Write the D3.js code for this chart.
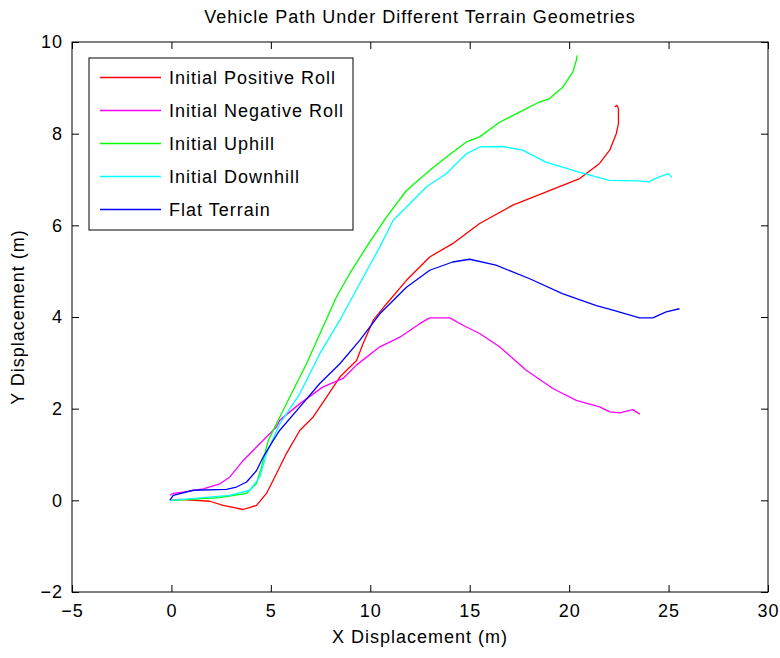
<!DOCTYPE html>
<html>
<head>
<meta charset="utf-8">
<script src="https://cdn.jsdelivr.net/npm/d3@7"></script>
<style>
  body { margin: 0; background: #fff; }
  svg text { fill: #000; }
</style>
</head>
<body>
<div id="chart"></div>
<script>
// series: [x, y] in metres
var positiveRoll = [[0,0],[0.43,0.02],[1.93,-0.02],[2.6,-0.11],[3.6,-0.2],[4.28,-0.11],[4.78,0.15],[5.28,0.58],[5.78,1.02],[6.46,1.53],[7.13,1.82],[7.8,2.25],[8.47,2.69],[9.31,3.05],[9.64,3.42],[10.15,3.93],[10.82,4.29],[11.82,4.8],[12.99,5.31],[14.14,5.6],[15.5,6.04],[17.17,6.44],[18.85,6.73],[20.53,7.02],[21.53,7.35],[22.04,7.64],[22.37,8.0],[22.48,8.22],[22.48,8.55],[22.4,8.62],[22.3,8.58]];
var negativeRoll = [[-0.08,0.11],[0.09,0.15],[0.59,0.18],[1.6,0.25],[2.44,0.36],[2.94,0.51],[3.61,0.87],[4.45,1.24],[5.28,1.6],[5.45,1.75],[6.46,2.11],[7.6,2.47],[8.63,2.66],[9.3,2.95],[10.48,3.35],[11.49,3.56],[12.5,3.86],[12.99,3.98],[14.0,3.98],[14.66,3.82],[15.5,3.64],[16.5,3.35],[17.84,2.84],[19.18,2.44],[20.36,2.18],[21.53,2.04],[22.04,1.93],[22.55,1.91],[23.2,1.98],[23.55,1.88]];
var uphill = [[0,0],[2.44,0.06],[3.78,0.15],[4.28,0.37],[4.53,0.73],[4.87,1.31],[5.45,1.82],[6.12,2.4],[6.79,2.98],[7.62,3.78],[8.29,4.43],[8.97,4.95],[9.81,5.53],[10.81,6.18],[11.82,6.76],[12.99,7.2],[13.83,7.49],[14.83,7.82],[15.5,7.93],[16.5,8.25],[17.5,8.47],[18.5,8.69],[19.0,8.76],[19.69,9.02],[20.19,9.35],[20.36,9.6],[20.4,9.71]];
var downhill = [[0,0],[2.94,0.11],[3.94,0.22],[4.45,0.51],[4.78,1.02],[5.45,1.67],[6.46,2.33],[7.46,3.2],[8.47,3.93],[9.47,4.73],[10.48,5.53],[11.15,6.11],[11.82,6.4],[12.83,6.84],[13.83,7.13],[14.83,7.56],[15.5,7.71],[16.66,7.72],[17.66,7.64],[18.83,7.38],[20.5,7.16],[22.0,6.98],[23.5,6.97],[24.0,6.95],[24.5,7.05],[25.0,7.13],[25.17,7.04]];
var flatTerrain = [[-0.08,0.0],[0.09,0.11],[1.09,0.22],[2.77,0.24],[3.27,0.29],[3.78,0.4],[4.28,0.65],[4.62,0.95],[5.12,1.31],[5.45,1.53],[6.46,2.04],[7.46,2.55],[8.47,2.98],[9.47,3.49],[10.48,4.07],[11.82,4.65],[12.99,5.02],[14.14,5.2],[15.0,5.26],[16.32,5.13],[17.99,4.84],[19.66,4.51],[21.37,4.25],[22.2,4.15],[23.54,3.98],[24.21,3.98],[24.88,4.11],[25.55,4.18]];

var seriesNames = ["Initial Positive Roll", "Initial Negative Roll", "Initial Uphill", "Initial Downhill", "Flat Terrain"];
var seriesData = [positiveRoll, negativeRoll, uphill, downhill, flatTerrain];
var seriesColours = ["#ff0000", "#ff00ff", "#00ff00", "#00ffff", "#0000ff"];

var xTicks = [-5, 0, 5, 10, 15, 20, 25, 30];
var yTicks = [-2, 0, 2, 4, 6, 8, 10];

var margin = { top: 42, right: 12, bottom: 66, left: 72 };
var totalWidth = 780, totalHeight = 658;
var width = totalWidth - margin.left - margin.right;
var height = totalHeight - margin.top - margin.bottom;
var fontFamily = "'Liberation Sans', Arial, sans-serif";

var svg = d3.select("#chart").append("svg")
    .attr("width", totalWidth)
    .attr("height", totalHeight)
    .attr("font-family", fontFamily)
    .attr("font-size", "18px")
    .attr("letter-spacing", "1px");

var g = svg.append("g")
    .attr("transform", "translate(" + margin.left + "," + margin.top + ")");

var x = d3.scaleLinear().domain([-5, 30]).range([0, width]);
var y = d3.scaleLinear().domain([-2, 10]).range([height, 0]);

// axes: ticks pointing inward on all four sides
var xAxis = d3.axisBottom(x).tickValues(xTicks).tickSizeInner(-7).tickSizeOuter(0).tickPadding(12);
var yAxis = d3.axisLeft(y).tickValues(yTicks).tickSizeInner(-7).tickSizeOuter(0).tickPadding(9);
var xAxisTop = d3.axisTop(x).tickValues(xTicks).tickSizeInner(-7).tickSizeOuter(0).tickFormat("");
var yAxisRight = d3.axisRight(y).tickValues(yTicks).tickSizeInner(-7).tickSizeOuter(0).tickFormat("");

g.append("g").attr("class", "x-axis axis")
    .attr("transform", "translate(0," + height + ")")
    .call(xAxis);
g.append("g").attr("class", "y-axis axis").call(yAxis);
g.append("g").attr("class", "axis").call(xAxisTop);
g.append("g").attr("class", "axis")
    .attr("transform", "translate(" + width + ",0)")
    .call(yAxisRight);

g.selectAll(".axis path").remove();
g.selectAll(".axis line").attr("stroke", "#000").attr("stroke-width", 1);
g.selectAll(".axis text")
    .attr("font-family", fontFamily)
    .attr("font-size", "18px")
    .attr("fill", "#000");

g.append("rect")
    .attr("width", width).attr("height", height)
    .attr("fill", "none").attr("stroke", "#000").attr("stroke-width", 1);

// lines
var line = d3.line()
    .x(function(d) { return x(d[0]); })
    .y(function(d) { return y(d[1]); });

seriesData.forEach(function(s, i) {
    g.append("path")
        .attr("fill", "none")
        .attr("stroke", seriesColours[i])
        .attr("stroke-width", 1.3)
        .attr("stroke-linejoin", "round")
        .attr("d", line(s));
});

// labels
svg.append("text")
    .attr("x", margin.left + width / 2).attr("y", 23)
    .attr("text-anchor", "middle")
    .text("Vehicle Path Under Different Terrain Geometries");

svg.append("text")
    .attr("x", margin.left + width / 2).attr("y", 643)
    .attr("text-anchor", "middle")
    .text("X Displacement (m)");

svg.append("text")
    .attr("transform", "translate(24," + (margin.top + height / 2) + ") rotate(-90)")
    .attr("text-anchor", "middle")
    .text("Y Displacement (m)");

// legend
var legend = g.append("g").attr("transform", "translate(17,16)");
legend.append("rect")
    .attr("width", 264).attr("height", 172)
    .attr("fill", "#fff").attr("stroke", "#000").attr("stroke-width", 1);

seriesNames.forEach(function(name, i) {
    var row = legend.append("g").attr("transform", "translate(0," + (19.5 + i * 33) + ")");
    row.append("line")
        .attr("x1", 11).attr("x2", 72)
        .attr("stroke", seriesColours[i]).attr("stroke-width", 1.3);
    row.append("text")
        .attr("x", 80).attr("y", 6.5)
        .text(name);
});
</script>
</body>
</html>
